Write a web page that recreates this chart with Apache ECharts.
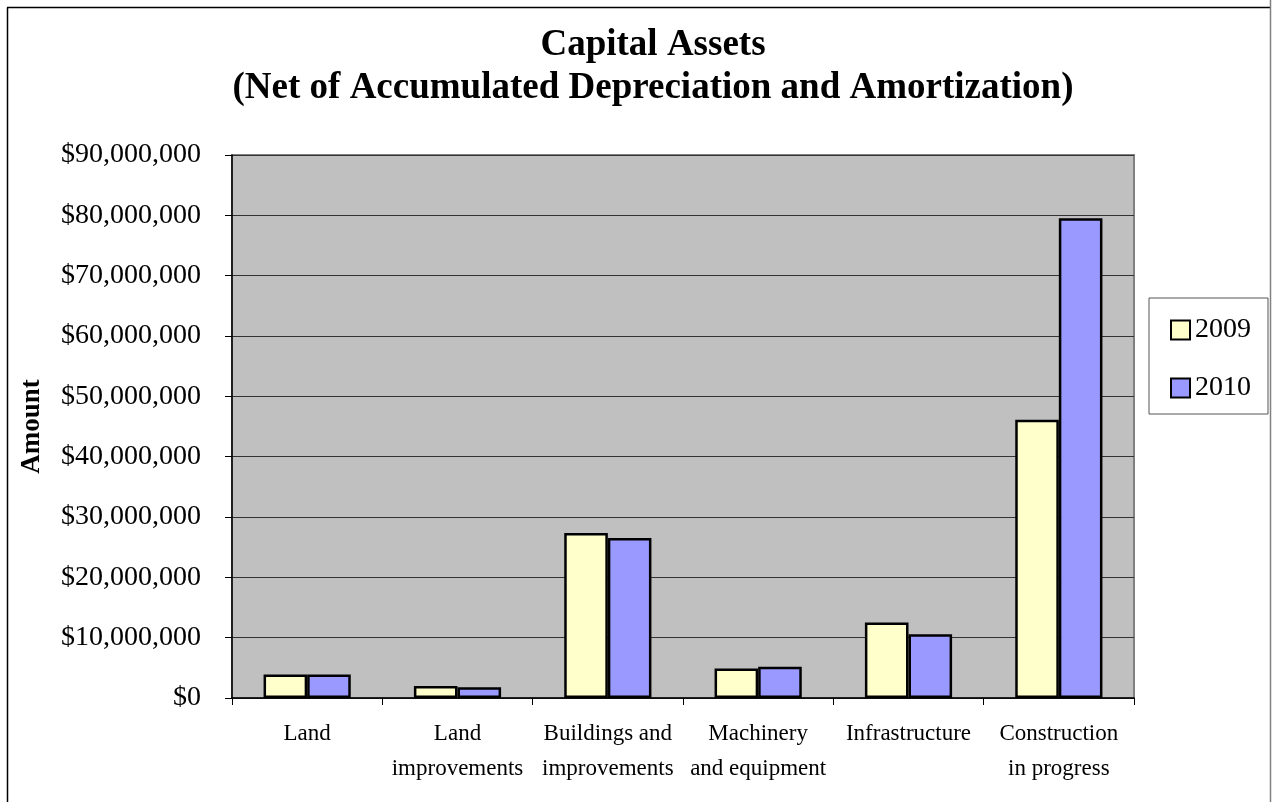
<!DOCTYPE html>
<html>
<head>
<meta charset="utf-8">
<script src="https://cdn.jsdelivr.net/npm/echarts@6/dist/echarts.min.js"></script>
<style>
html,body{margin:0;padding:0;background:#fff;}
#chart{width:1272px;height:802px;}
</style>
</head>
<body>
<div id="chart"></div>
<script>
const categories = ['Land', 'Land\nimprovements', 'Buildings and\nimprovements', 'Machinery\nand equipment', 'Infrastructure', 'Construction\nin progress'];
const values2009 = [3900000, 2000000, 27350000, 4900000, 12500000, 46100000];
const values2010 = [3900000, 1800000, 26500000, 5200000, 10550000, 79500000];
const seriesNames = ['2009', '2010'];
const titleLines = ['Capital Assets', '(Net of Accumulated Depreciation and Amortization)'];
const yMin = 0, yMax = 90000000, yStep = 10000000;

const FONT = '"Liberation Serif", "Times New Roman", serif';
const chart = echarts.init(document.getElementById('chart'), null, {renderer: 'canvas'});
chart.setOption({
  animation: false,
  backgroundColor: '#fff',
  legend: {
    orient: 'vertical',
    left: 1149, top: 298,
    padding: [18, 17, 12, 21],
    itemGap: 30,
    itemWidth: 19, itemHeight: 19,
    itemTextGap: 8,
    borderColor: '#555', borderWidth: 1,
    backgroundColor: '#fff',
    icon: 'rect',
    textStyle: {fontFamily: FONT, fontSize: 28, color: '#000', lineHeight: 28},
    data: seriesNames
  },
  grid: {
    left: 232, top: 155, right: 138, bottom: 104,
    show: true, backgroundColor: '#c0c0c0', borderColor: '#808080', borderWidth: 2
  },
  xAxis: {
    type: 'category',
    data: categories,
    axisLine: {show: true, lineStyle: {color: '#000', width: 1.5}},
    axisTick: {show: true, inside: false, length: 7, interval: 0, alignWithLabel: false, lineStyle: {color: '#000', width: 1}},
    axisLabel: {interval: 0, margin: 18, fontFamily: FONT, fontSize: 23, color: '#000', lineHeight: 35},
    splitLine: {show: false}
  },
  yAxis: {
    type: 'value',
    min: yMin, max: yMax, interval: yStep,
    name: 'Amount',
    nameLocation: 'middle',
    nameRotate: 90,
    nameGap: 186,
    nameTextStyle: {fontFamily: FONT, fontSize: 27, fontWeight: 'bold', color: '#000'},
    axisLine: {show: true, lineStyle: {color: '#000', width: 1.5}},
    axisTick: {show: true, inside: false, length: 7, lineStyle: {color: '#000', width: 1}},
    axisLabel: {margin: 31, fontFamily: FONT, fontSize: 28, color: '#000',
      formatter: v => '$' + Math.round(v).toLocaleString('en-US')},
    splitLine: {show: true, lineStyle: {color: '#333', width: 1}}
  },
  series: [
    {name: seriesNames[0], type: 'bar', data: values2009, barGap: '0%', barCategoryGap: '42%',
     itemStyle: {color: '#ffffcc', borderColor: '#000', borderWidth: 2.5}},
    {name: seriesNames[1], type: 'bar', data: values2010, barGap: '0%', barCategoryGap: '42%',
     itemStyle: {color: '#9999ff', borderColor: '#000', borderWidth: 2.5}}
  ],
  graphic: [
    {type: 'text', x: 653, y: 45, silent: true,
     style: {text: titleLines[0], fontFamily: FONT, fontSize: 37, fontWeight: 'bold', fill: '#000', textAlign: 'center', textVerticalAlign: 'middle'}},
    {type: 'text', x: 653, y: 88, silent: true,
     style: {text: titleLines[1], fontFamily: FONT, fontSize: 37, fontWeight: 'bold', fill: '#000', textAlign: 'center', textVerticalAlign: 'middle'}},
    {type: 'line', shape: {x1: 7.5, y1: 7.5, x2: 7.5, y2: 802}, style: {stroke: '#000', lineWidth: 1.5}, silent: true},
    {type: 'line', shape: {x1: 7, y1: 7.5, x2: 1270, y2: 7.5}, style: {stroke: '#000', lineWidth: 1.5}, silent: true},
    {type: 'line', shape: {x1: 1270.5, y1: 0, x2: 1270.5, y2: 802}, style: {stroke: '#808080', lineWidth: 1.5}, silent: true}
  ]
});
</script>
</body>
</html>
